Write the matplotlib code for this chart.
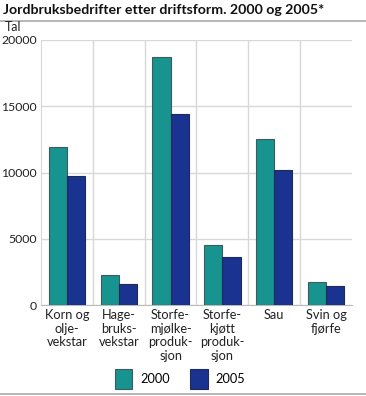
import matplotlib.pyplot as plt
import numpy as np

plt.rcParams['font.family'] = ['Lato', 'DejaVu Sans']

# data
categories = ["Korn og\nolje-\nvekstar", "Hage-\nbruks-\nvekstar", "Storfe-\nmjølke-\nproduk-\nsjon",
              "Storfe-\nkjøtt\nproduk-\nsjon", "Sau", "Svin og\nfjørfe"]
v2000 = [11900, 2300, 18700, 4550, 12500, 1730]
v2005 = [9750, 1580, 14400, 3650, 10200, 1400]
yticks = [0, 5000, 10000, 15000, 20000]

fig = plt.figure(figsize=(3.66, 3.96), dpi=100)
ax = fig.add_axes([41 / 366, 1 - 305 / 396, 311 / 366, 265 / 396])

x = np.arange(len(categories))
w = 0.35
ax.bar(x - w / 2, v2000, w, color="#17948f", edgecolor="#3f5a5a", linewidth=0.8, label="2000", zorder=3)
ax.bar(x + w / 2, v2005, w, color="#1b3390", edgecolor="#1f2a55", linewidth=0.8, label="2005", zorder=3)

ax.set_xlim(-0.5, len(categories) - 0.5)
ax.set_ylim(0, 20000)
ax.set_yticks(yticks)
ax.set_yticklabels([str(t) for t in yticks], fontsize=8.8, color="#222222")
ax.set_xticks(x)
ax.set_xticklabels(categories, fontsize=9.2, color="#222222", linespacing=1.15)
ax.set_xticks(np.arange(0.5, len(categories) - 0.5), minor=True)
ax.tick_params(axis='y', which='both', length=0, pad=3)
ax.tick_params(axis='x', which='both', length=0, pad=3)
ax.grid(axis='y', color="#d8d8d8", linewidth=1, zorder=0)
ax.grid(axis='x', which='minor', color="#d8d8d8", linewidth=1, zorder=0)
for s in ["top", "right"]:
    ax.spines[s].set_visible(False)
ax.spines["left"].set_color("#d8d8d8")
ax.spines["bottom"].set_color("#bbbbbb")

fig.text(5 / 366, 1 - 27 / 396, "Tal", fontsize=9, color="#222222", va="center")
fig.text(3 / 366, 1 - 10 / 396, "Jordbruksbedrifter etter driftsform. 2000 og 2005*",
         fontsize=10.2, fontweight="bold", va="center", color="#111111")
fig.add_artist(plt.Line2D([0, 1], [1 - 21 / 396, 1 - 21 / 396], color="#aaaaaa", linewidth=1.2))
fig.add_artist(plt.Line2D([0, 1], [1 - 394 / 396, 1 - 394 / 396], color="#aaaaaa", linewidth=1.2))

fig.legend(loc="center", bbox_to_anchor=(180 / 366, 1 - 379 / 396), ncol=2, frameon=False,
           fontsize=9.2, handlelength=1.4, handleheight=2.0, columnspacing=1.6, handletextpad=0.6)

fig.savefig("out.png", dpi=100)
